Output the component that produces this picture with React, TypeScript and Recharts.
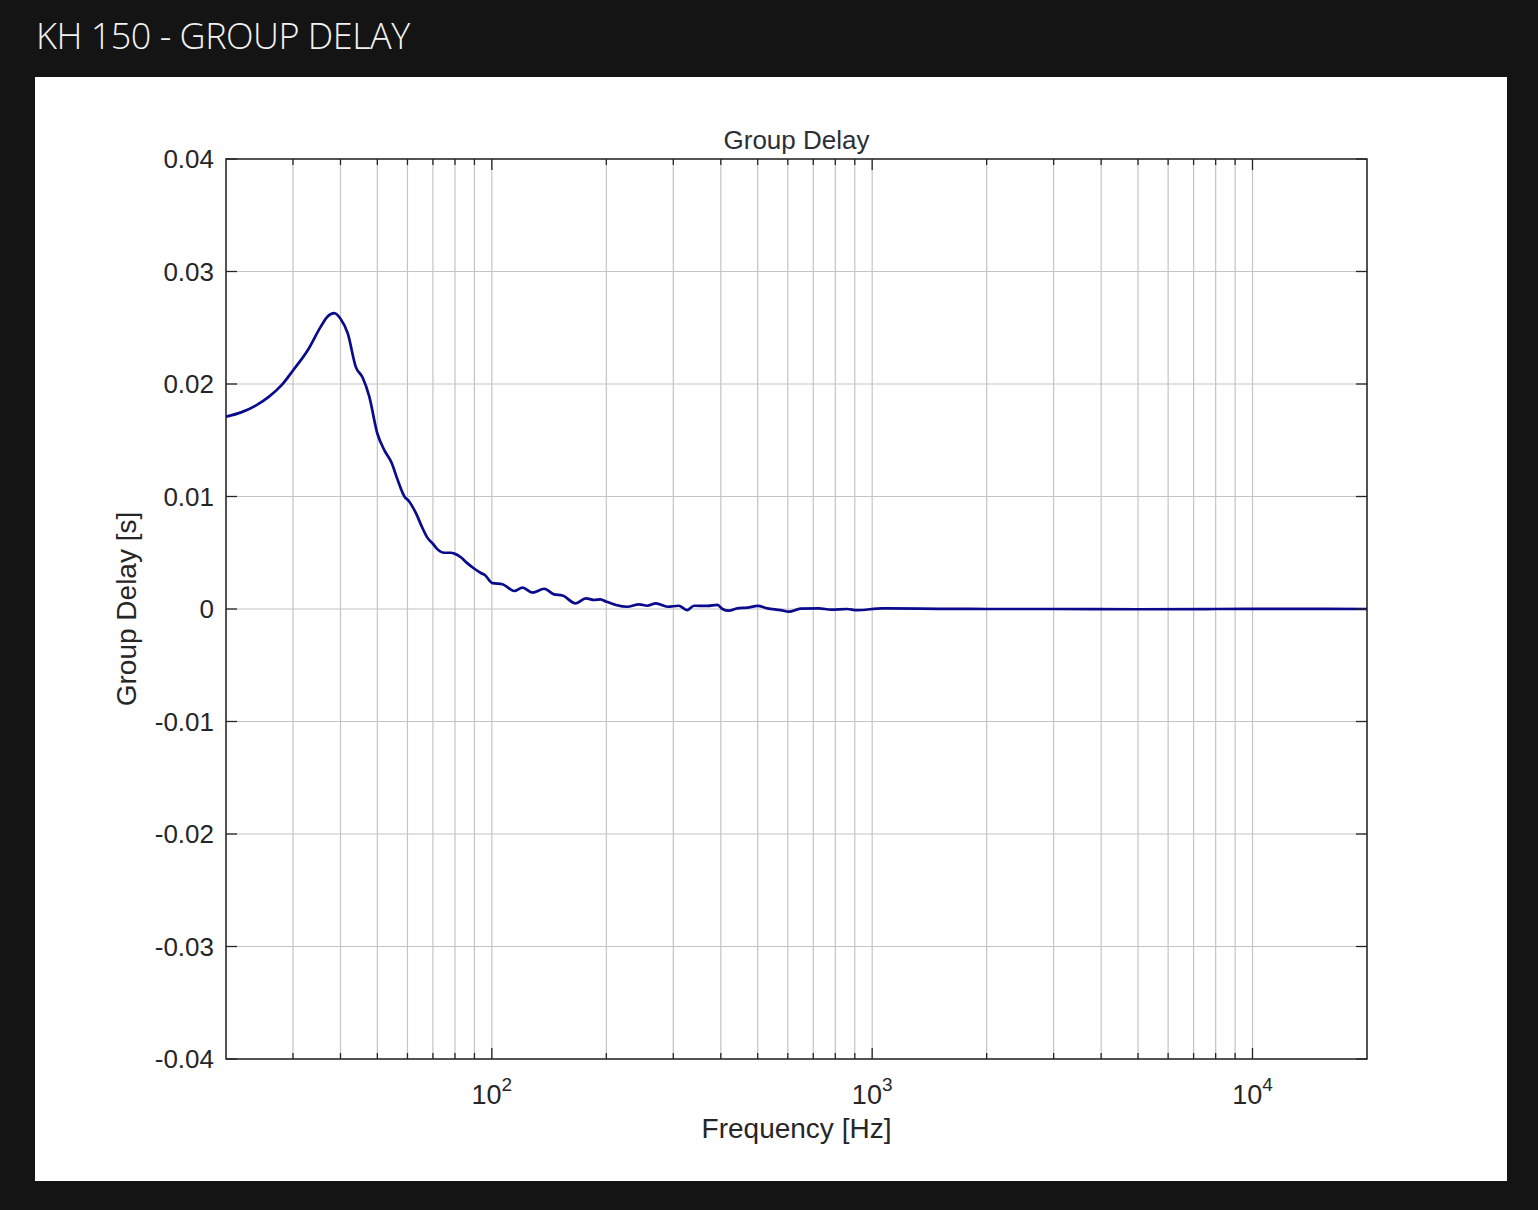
import React from 'react';
import { LineChart, Line, XAxis, YAxis, CartesianGrid, ReferenceArea, Label } from 'recharts';

const freqHz = [
  20, 22, 24, 26, 28, 30, 32.8, 35.5, 37, 38.5, 40, 41.8, 43.9, 45.7, 47.6, 50, 52.2, 54.5, 56.5, 58.9,
  60.5, 63.2, 65.5, 67.8, 70, 72, 74.9, 78, 80, 82.9, 86, 89.8, 93.6, 96, 100.4, 106.7, 114.5, 120.4,
  127.9, 137.3, 145.8, 153.4, 166, 176.7, 185.6, 193, 200, 212, 227, 244, 256, 270, 290, 310, 326, 340,
  369, 392, 404, 420, 442, 470, 500, 530, 575, 604, 648, 724, 780, 860, 912, 1064, 1500, 2000, 3000,
  5000, 8000, 12000, 20000,
];
const delaySec = [
  0.0171, 0.0175, 0.0181, 0.0189, 0.0199, 0.0212, 0.023, 0.0251, 0.026, 0.0263, 0.0258, 0.0245, 0.0215,
  0.0206, 0.0189, 0.0156, 0.0141, 0.013, 0.0115, 0.01, 0.0096, 0.0085, 0.0073, 0.0063, 0.0058, 0.0053,
  0.005, 0.005, 0.0049, 0.0046, 0.0041, 0.0036, 0.0032, 0.003, 0.0023, 0.0022, 0.0016, 0.0019, 0.00145,
  0.0018, 0.0013, 0.0012, 0.0005, 0.00095, 0.0008, 0.00086, 0.00065, 0.00036, 0.0002, 0.00042, 0.00029,
  0.0005, 0.0002, 0.00029, -0.0001, 0.00029, 0.00027, 0.00036, 0, -0.00015, 0.00006, 0.00012, 0.00027,
  0.00006, -0.0001, -0.00024, 0.00003, 0.00006, -0.00006, 0, -0.0001, 0.00006, 0.00002, 0, 0, -0.00002,
  0, 0.00001, 0,
];

const xTicks = [
  30, 40, 50, 60, 70, 80, 90, 100, 200, 300, 400, 500, 600, 700, 800, 900, 1000, 2000, 3000, 4000, 5000,
  6000, 7000, 8000, 9000, 10000,
];
const majorX = [100, 1000, 10000];
const yTicks = [-0.04, -0.03, -0.02, -0.01, 0, 0.01, 0.02, 0.03, 0.04];

const data = freqHz.map((f, i) => ({ f, d: delaySec[i] }));

const PLOT_W = 1141;
const PLOT_H = 900;
const AXIS = '#262626';
const FONT = '"Liberation Sans", Arial, sans-serif';

const XTick = (props: any) => {
  const { x, y, payload } = props;
  const v = payload.value;
  const major = majorX.includes(v);
  const len = major ? 11 : 6;
  return (
    <g>
      <line x1={x} y1={y} x2={x} y2={y - len} stroke={AXIS} strokeWidth={1.3} />
      <line x1={x} y1={y - PLOT_H} x2={x} y2={y - PLOT_H + len} stroke={AXIS} strokeWidth={1.3} />
      {major && (
        <text x={x} y={y + 45} textAnchor="middle" fontSize={27} fill={AXIS} fontFamily={FONT}>
          10
          <tspan dy={-13} fontSize={19}>{Math.round(Math.log10(v))}</tspan>
        </text>
      )}
    </g>
  );
};

const YTick = (props: any) => {
  const { x, y, payload } = props;
  const v = payload.value;
  const label = Math.abs(v) < 1e-9 ? '0' : v.toFixed(2);
  return (
    <g>
      <line x1={x} y1={y} x2={x + 11} y2={y} stroke={AXIS} strokeWidth={1.3} />
      <line x1={x + PLOT_W} y1={y} x2={x + PLOT_W - 11} y2={y} stroke={AXIS} strokeWidth={1.3} />
      <text x={x - 12} y={y} dy={9} textAnchor="end" fontSize={26} fill={AXIS} fontFamily={FONT}>
        {label}
      </text>
    </g>
  );
};

const App = () => {
  return (
    <div style={{ position: 'absolute', left: 0, top: 0, width: 1538, height: 1210, background: '#141414' }}>
      <div
        style={{
          position: 'absolute',
          left: 36,
          top: 11,
          color: '#f2f2f2',
          fontFamily: '"Open Sans", sans-serif',
          fontWeight: 300,
          fontSize: 36,
          letterSpacing: -0.5,
          lineHeight: 'normal',
          whiteSpace: 'nowrap',
        }}
      >
        KH 150 - GROUP DELAY
      </div>
      <div style={{ position: 'absolute', left: 35, top: 77, width: 1472, height: 1104, background: '#ffffff' }} />
      <div
        style={{
          position: 'absolute',
          left: 226,
          width: PLOT_W,
          top: 125,
          textAlign: 'center',
          fontFamily: FONT,
          fontSize: 26,
          lineHeight: '30px',
          color: '#2b2f36',
        }}
      >
        Group Delay
      </div>
      <div style={{ position: 'absolute', left: 0, top: 0 }}>
        <LineChart
          width={1538}
          height={1210}
          data={data}
          margin={{ top: 159, right: 171, bottom: 11, left: 30 }}
        >
          <CartesianGrid stroke="#c4c4c4" strokeWidth={1.2} />
          <XAxis
            dataKey="f"
            type="number"
            scale="log"
            domain={[20, 20000]}
            allowDataOverflow
            ticks={xTicks}
            interval={0}
            tick={<XTick />}
            tickSize={0}
            tickMargin={0}
            tickLine={false}
            axisLine={false}
            height={140}
          >
            <Label value="Frequency [Hz]" position="center" fontSize={28} fill={AXIS} fontFamily={FONT} dy={-1} />
          </XAxis>
          <YAxis
            type="number"
            domain={[-0.04, 0.04]}
            allowDataOverflow
            ticks={yTicks}
            interval={0}
            tick={<YTick />}
            tickSize={0}
            tickMargin={0}
            tickLine={false}
            axisLine={false}
            width={196}
          >
            <Label value="Group Delay [s]" position="center" angle={-90} fontSize={28} fill={AXIS} fontFamily={FONT} dx={-2} />
          </YAxis>
          <ReferenceArea x1={20} x2={20000} y1={-0.04} y2={0.04} fill="none" stroke={AXIS} strokeWidth={1.5} />
          <Line
            dataKey="d"
            type="monotone"
            stroke="#0a0a8c"
            strokeWidth={2.7}
            dot={false}
            isAnimationActive={false}
          />
        </LineChart>
      </div>
    </div>
  );
};

export default App;
